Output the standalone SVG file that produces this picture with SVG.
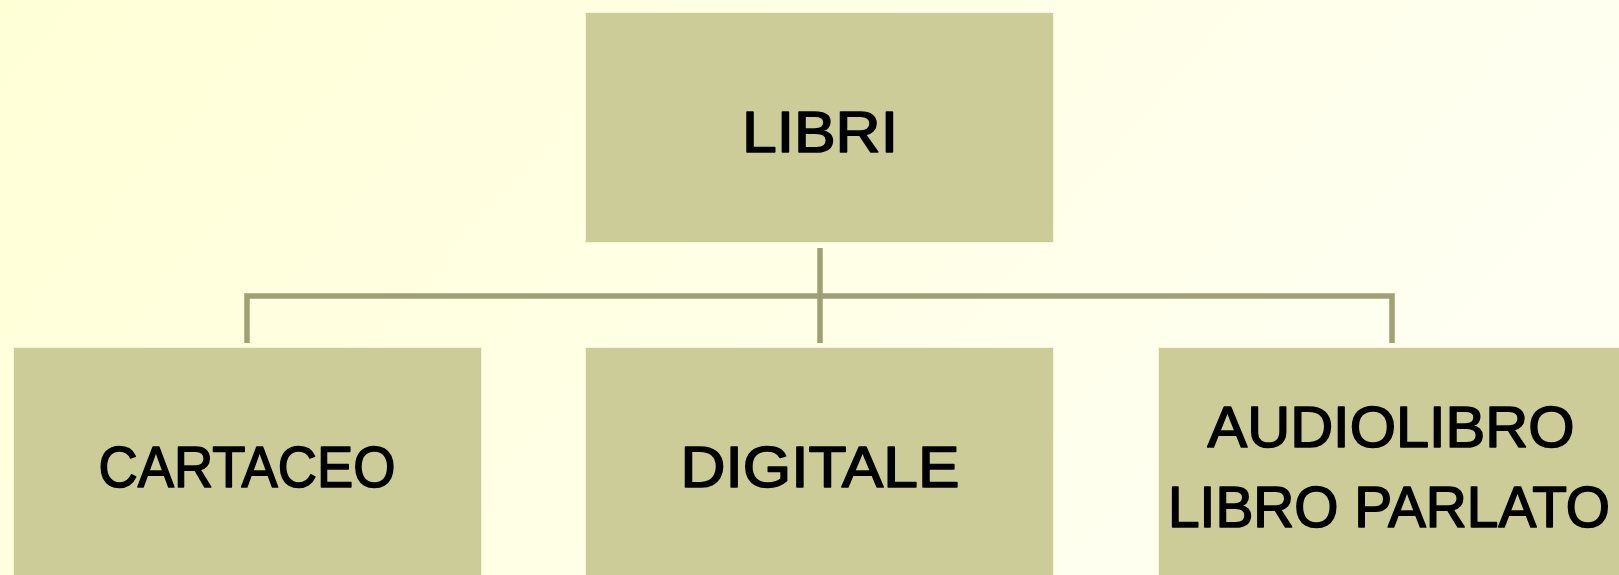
<svg xmlns="http://www.w3.org/2000/svg" width="1619" height="575" viewBox="0 0 1619 575">
<defs>
<linearGradient id="bg" x1="0" y1="0" x2="1" y2="0.3">
<stop offset="0" stop-color="#ffffd6"/>
<stop offset="1" stop-color="#fffff2"/>
</linearGradient>
</defs>
<style>
.box{fill:#cccc99;stroke:#f4f4d8;stroke-width:1}
.lbl{font-family:"Liberation Sans","DejaVu Sans",sans-serif;font-size:57px;fill:#000;stroke:#000;stroke-width:1.6;stroke-linejoin:round;text-anchor:middle}
.conn{stroke:#a0a077;stroke-width:5.5;fill:none;stroke-linecap:butt}
</style>
<rect x="0" y="0" width="1619" height="575" fill="url(#bg)"/>
<g id="connectors">
<line class="conn" x1="820" y1="248" x2="820" y2="343"/>
<polyline class="conn" points="247,343 247,296 1392,296 1392,343"/>
</g>
<g id="libri">
<rect class="box" x="585.5" y="12.5" width="468" height="230"/>
<text class="lbl" x="820" y="152" textLength="156" lengthAdjust="spacingAndGlyphs">LIBRI</text>
</g>
<g id="cartaceo">
<rect class="box" x="13.5" y="347.5" width="468" height="232"/>
<text class="lbl" x="247" y="487" textLength="297" lengthAdjust="spacingAndGlyphs">CARTACEO</text>
</g>
<g id="digitale">
<rect class="box" x="585.5" y="347.5" width="468" height="232"/>
<text class="lbl" x="820" y="487" textLength="279" lengthAdjust="spacingAndGlyphs">DIGITALE</text>
</g>
<g id="audiolibro">
<rect class="box" x="1158.5" y="347.5" width="468" height="232"/>
<text class="lbl" x="1391" y="447" textLength="367" lengthAdjust="spacingAndGlyphs">AUDIOLIBRO</text>
<text class="lbl" x="1389" y="527" textLength="442" lengthAdjust="spacingAndGlyphs">LIBRO PARLATO</text>
</g>
</svg>
